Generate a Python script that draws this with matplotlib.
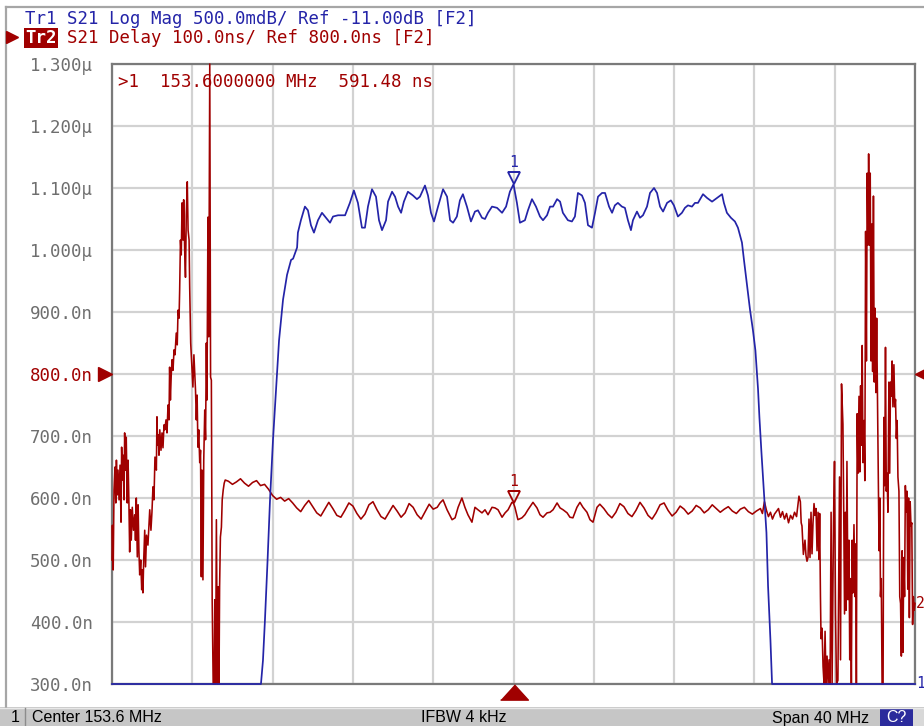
import numpy as np
import matplotlib
matplotlib.use("Agg")
import matplotlib.pyplot as plt
import matplotlib.transforms as mtransforms
from matplotlib.patches import Rectangle

# ---------------- instrument settings ----------------
center_mhz = 153.6
span_mhz = 40.0
ifbw_khz = 4
n_div = 10
delay_ref_ns = 800.0
delay_div_ns = 100.0
mag_ref_db = -11.0
mag_div_db = 0.5
marker_freq = 153.6
marker_delay = 591.48

ytick_labels = ["300.0n", "400.0n", "500.0n", "600.0n", "700.0n", "800.0n",
                "900.0n", "1.000\u00b5", "1.100\u00b5", "1.200\u00b5", "1.300\u00b5"]

# ---------------- Tr1 : S21 Log Mag (dB) ----------------
mag_freq = [133.60, 141.02, 141.12, 141.22, 141.35, 141.47, 141.62, 141.77, 141.92, 142.12,
            142.32, 142.52, 142.62, 142.82, 142.86, 143.01, 143.21, 143.36, 143.51, 143.66,
            143.86, 144.06, 144.21, 144.46, 144.61, 144.86, 145.21, 145.45, 145.65, 145.85,
            146.05, 146.20, 146.35, 146.55, 146.75, 146.90, 147.05, 147.25, 147.35, 147.55,
            147.70, 147.85, 148.00, 148.14, 148.34, 148.59, 148.79, 148.94, 149.19, 149.34,
            149.49, 149.64, 149.84, 150.09, 150.29, 150.44, 150.59, 150.78, 150.93, 151.08,
            151.28, 151.48, 151.68, 151.83, 152.03, 152.18, 152.33, 152.53, 152.78, 153.03,
            153.23, 153.42, 153.60, 153.77, 153.92, 154.17, 154.32, 154.52, 154.72, 154.92,
            155.07, 155.27, 155.42, 155.57, 155.77, 155.92, 156.06, 156.31, 156.51, 156.66,
            156.81, 157.01, 157.16, 157.31, 157.51, 157.66, 157.81, 158.01, 158.16, 158.36,
            158.51, 158.65, 158.80, 159.00, 159.15, 159.30, 159.45, 159.55, 159.75, 159.90,
            160.05, 160.25, 160.40, 160.60, 160.75, 160.90, 161.05, 161.25, 161.44, 161.59,
            161.79, 161.99, 162.14, 162.29, 162.49, 162.64, 162.79, 163.04, 163.24, 163.49,
            163.74, 163.99, 164.08, 164.23, 164.43, 164.63, 164.78, 164.98, 165.08, 165.23,
            165.38, 165.53, 165.65, 165.78, 165.85, 165.95, 166.08, 166.20, 166.28, 166.40,
            166.48, 166.55, 173.60]
mag_db = [-25.0, -25.0, -13.31, -12.98, -12.50, -12.02, -11.53, -11.13, -10.73, -10.40,
          -10.20, -10.08, -10.07, -9.98, -9.86, -9.76, -9.65, -9.68, -9.80, -9.86,
          -9.76, -9.70, -9.73, -9.78, -9.73, -9.72, -9.72, -9.62, -9.52, -9.62,
          -9.82, -9.82, -9.65, -9.51, -9.57, -9.76, -9.84, -9.76, -9.61, -9.53,
          -9.57, -9.65, -9.70, -9.61, -9.53, -9.56, -9.59, -9.57, -9.48, -9.56,
          -9.70, -9.77, -9.65, -9.51, -9.57, -9.76, -9.78, -9.73, -9.60, -9.55,
          -9.65, -9.77, -9.69, -9.68, -9.74, -9.75, -9.70, -9.65, -9.66, -9.70,
          -9.65, -9.53, -9.47, -9.62, -9.78, -9.76, -9.68, -9.59, -9.65, -9.73,
          -9.76, -9.72, -9.65, -9.65, -9.59, -9.61, -9.70, -9.76, -9.77, -9.73,
          -9.54, -9.56, -9.62, -9.80, -9.82, -9.70, -9.57, -9.54, -9.54, -9.65,
          -9.70, -9.64, -9.62, -9.65, -9.66, -9.76, -9.84, -9.76, -9.69, -9.74,
          -9.72, -9.65, -9.54, -9.50, -9.54, -9.65, -9.69, -9.62, -9.60, -9.64,
          -9.73, -9.70, -9.66, -9.64, -9.65, -9.62, -9.62, -9.55, -9.58, -9.61,
          -9.58, -9.55, -9.62, -9.70, -9.74, -9.77, -9.82, -9.94, -10.08, -10.28,
          -10.48, -10.65, -10.81, -11.12, -11.35, -11.63, -11.97, -12.28, -12.71, -13.15,
          -13.50, -25.0, -25.0]

# ---------------- Tr2 : S21 Group delay (ns) ----------------
delay_freq = [
    133.60, 133.62, 133.66, 133.70, 133.75, 133.79, 133.82, 133.86, 133.90, 133.95,
    134.00, 134.05, 134.08, 134.12, 134.16, 134.20, 134.23, 134.27, 134.31, 134.36,
    134.40, 134.44, 134.48, 134.52, 134.56, 134.61, 134.67, 134.73, 134.77, 134.81,
    134.86, 134.90, 134.94, 134.98, 135.03, 135.08, 135.11, 135.14, 135.18, 135.23,
    135.27, 135.32, 135.39, 135.44, 135.48, 135.54, 135.59, 135.64, 135.69, 135.74,
    135.81, 135.84, 135.87, 135.91, 135.94, 135.98, 136.04, 136.09, 136.14, 136.19,
    136.23, 136.29, 136.34, 136.39, 136.44, 136.47, 136.51, 136.55, 136.59, 136.64,
    136.69, 136.74, 136.80, 136.85, 136.89, 136.94, 136.97, 137.01, 137.05, 137.09,
    137.14, 137.17, 137.22, 137.26, 137.30, 137.35, 137.39, 137.44, 137.47, 137.52,
    137.56, 137.63, 137.68, 137.76, 137.80, 137.84, 137.88, 137.92, 137.97, 138.01,
    138.05, 138.08, 138.13, 138.17, 138.22, 138.26, 138.30, 138.33, 138.38, 138.42,
    138.47, 138.51, 138.55, 138.59, 138.64, 138.69, 138.72, 138.76, 138.80, 138.85,
    138.89, 138.93, 138.96, 139.00, 139.05, 139.09, 139.14, 139.19, 139.24,
    139.4, 139.6, 139.8, 140.0, 140.2, 140.4, 140.6, 140.8, 141.0, 141.2,
    141.4, 141.6, 141.8, 142.0, 142.2, 142.4, 142.6, 142.8, 143.0, 143.2,
    143.4, 143.6, 143.8, 144.0, 144.2, 144.4, 144.6, 144.8, 145.0, 145.2,
    145.4, 145.6, 145.8, 146.0, 146.2, 146.4, 146.6, 146.8, 147.0, 147.2,
    147.4, 147.6, 147.8, 148.0, 148.2, 148.4, 148.6, 148.8, 149.0, 149.2,
    149.4, 149.6, 149.8,
    149.94, 150.09, 150.29, 150.54, 150.69, 150.84, 151.03, 151.18, 151.33, 151.53,
    151.68, 151.83, 152.03, 152.18, 152.33, 152.53, 152.68, 152.83, 153.03, 153.18,
    153.33, 153.52, 153.60, 153.67, 153.82, 154.02, 154.17, 154.32, 154.57, 154.77,
    154.92, 155.07, 155.27, 155.42, 155.57, 155.77, 155.92, 156.07, 156.27, 156.41,
    156.56, 156.76, 156.91, 157.06, 157.26, 157.41, 157.56, 157.76,
    157.9, 158.1, 158.3, 158.5, 158.7, 158.9, 159.1, 159.3, 159.5, 159.7,
    159.9, 160.1, 160.3, 160.5, 160.7, 160.9, 161.1, 161.3, 161.5, 161.7,
    161.9, 162.1, 162.3, 162.5, 162.7, 162.9, 163.1, 163.3, 163.5, 163.7,
    163.9, 164.1, 164.3, 164.5, 164.7, 164.9, 165.1, 165.3, 165.5, 165.7,
    165.9,
    166.0, 166.1, 166.2, 166.3, 166.4, 166.5, 166.6, 166.8, 166.9, 167.0,
    167.1, 167.2, 167.3, 167.4, 167.5, 167.6, 167.7, 167.82,
    167.89, 167.93, 167.97, 168.04, 168.12, 168.17, 168.22, 168.27, 168.32, 168.37,
    168.42, 168.47, 168.52, 168.57, 168.62, 168.67, 168.72, 168.77, 168.82, 168.85,
    168.89, 168.92, 168.97, 169.02, 169.07, 169.12, 169.17, 169.22, 169.27, 169.32,
    169.37, 169.42, 169.47, 169.54, 169.59, 169.64, 169.69, 169.76, 169.84, 169.89,
    169.94, 170.01, 170.05, 170.09, 170.13, 170.17, 170.21, 170.26, 170.31, 170.35,
    170.39, 170.43, 170.47, 170.51, 170.56, 170.61, 170.65, 170.68, 170.72, 170.76,
    170.81, 170.85, 170.89, 170.93, 170.97, 171.01, 171.06, 171.10, 171.14, 171.18,
    171.22, 171.26, 171.29, 171.33, 171.37, 171.41, 171.45, 171.49, 171.53, 171.57,
    171.61, 171.65, 171.69, 171.73, 171.77, 171.81, 171.85, 171.88, 171.92, 171.96,
    172.01, 172.05, 172.09, 172.13, 172.17, 172.21, 172.25, 172.30, 172.34, 172.38,
    172.42, 172.46, 172.50, 172.55, 172.59, 172.63, 172.67, 172.71, 172.75, 172.80,
    172.84, 172.88, 172.92, 172.96, 173.00, 173.04, 173.08, 173.12, 173.16, 173.20,
    173.24, 173.28, 173.32, 173.36, 173.40, 173.44, 173.48, 173.52, 173.56, 173.60]
delay_ns = [
    500, 556, 484, 613, 650, 592, 661, 605, 645, 597,
    653, 561, 682, 629, 669, 597, 705, 645, 698, 592,
    661, 597, 513, 581, 532, 585, 548, 573, 532, 600,
    505, 589, 516, 476, 500, 452, 484, 447, 500, 548,
    489, 540, 524, 556, 581, 548, 577, 618, 597, 666,
    645, 731, 685, 702, 669, 710, 677, 705, 681, 718,
    710, 726, 705, 750, 726, 811, 758, 798, 823, 806,
    839, 831, 866, 847, 903, 890, 935, 1016, 992, 1076,
    1016, 1081, 1000, 956, 1056, 1110, 1032, 1016, 940, 850,
    823, 779, 831, 774, 726, 766, 682, 710, 657, 677,
    473, 645, 468, 661, 742, 694, 850, 758, 1053, 860,
    1500, 795, 790, 436, 150, 120, 436, 180, 565, 200,
    457, 150, 457, 537, 553, 597, 613, 624, 629,
    627, 622, 626, 631, 624, 619, 625, 628, 620, 622,
    614, 604, 598, 601, 595, 599, 592, 584, 578, 588,
    596, 586, 576, 571, 582, 593, 583, 572, 569, 580,
    592, 587, 575, 566, 574, 589, 594, 581, 570, 566,
    577, 588, 579, 569, 576, 591, 585, 573, 566, 578,
    590, 582, 585,
    592, 597, 581, 565, 568, 585, 600, 585, 573, 561,
    585, 581, 576, 581, 573, 585, 584, 581, 569, 576,
    581, 593, 591.48, 585, 565, 568, 573, 581, 593, 584,
    573, 569, 576, 577, 581, 592, 584, 581, 576, 569,
    568, 585, 593, 585, 577, 565, 561, 585,
    590, 583, 574, 568, 577, 591, 586, 575, 570, 580,
    593, 584, 572, 566, 576, 589, 592, 580, 571, 577,
    587, 582, 574, 579, 588, 584, 576, 581, 589, 583,
    577, 582, 586, 579, 575, 582, 585, 578, 574, 579,
    583,
    575, 594, 580, 570, 577, 566, 574, 583, 569, 578,
    566, 575, 560, 572, 566, 577, 570, 603,
    594, 560, 555, 509, 532, 507, 498, 504, 566, 504,
    577, 510, 560, 591, 572, 583, 515, 577, 501, 575,
    441, 373, 390, 328, 200, 385, 200, 345, 200, 339,
    200, 577, 200, 560, 659, 413, 200, 306, 634, 339,
    784, 719, 577, 413, 577, 419, 659, 436, 532, 339,
    470, 200, 532, 447, 557, 441, 526, 200, 736, 640,
    764, 642, 781, 685, 846, 657, 725, 628, 1030, 821,
    1124, 1008, 1155, 1008, 1124, 821, 1042, 804, 1087, 787,
    906, 770, 890, 759, 611, 515, 600, 441, 470, 200,
    200, 730, 620, 843, 611, 640, 577, 787, 640, 787,
    764, 821, 747, 815, 747, 759, 696, 725, 634, 611,
    441, 430, 345, 515, 351, 504, 441, 620, 577, 611,
    453, 600, 407, 594, 555, 560, 396, 441, 419, 430]

# ---------------- styling ----------------
W, H = 924, 726
BLUE = "#2424a8"
RED = "#a00000"
GRID = "#d2d2d2"
LABEL = "#6e6e6e"
MONO = ["DejaVu Sans Mono"]
SB = ["Liberation Sans", "DejaVu Sans"]
plt.rcParams["font.family"] = ["DejaVu Sans", "DejaVu Sans Mono"]

fig = plt.figure(figsize=(W / 100, H / 100), dpi=100)
fig.patch.set_facecolor("white")

L, R, T, B = 112, 915, 64, 684
ax = fig.add_axes([L / W, (H - B) / H, (R - L) / W, (B - T) / H])
f0, f1 = center_mhz - span_mhz / 2, center_mhz + span_mhz / 2
d0 = delay_ref_ns - n_div / 2 * delay_div_ns
d1 = delay_ref_ns + n_div / 2 * delay_div_ns
ax.set_xlim(f0, f1)
ax.set_ylim(d0, d1)
ax.set_xticks(np.linspace(f0, f1, n_div + 1))
ax.set_yticks(np.linspace(d0, d1, n_div + 1))
ax.grid(True, color=GRID, lw=1.6)
ax.set_axisbelow(True)
ax.tick_params(length=0, labelbottom=False, pad=13.5)
ax.set_yticklabels(ytick_labels, family=MONO, fontsize=12.5, color=LABEL)
for lbl in ax.get_yticklabels():
    if lbl.get_text() == "800.0n":
        lbl.set_color(RED)
for sp in ax.spines.values():
    sp.set_color("#7a7a7a")
    sp.set_linewidth(1.6)

ax2 = ax.twinx()
m0 = mag_ref_db - n_div / 2 * mag_div_db
m1 = mag_ref_db + n_div / 2 * mag_div_db
ax2.set_ylim(m0, m1)
ax2.set_axis_off()

dns = np.clip(np.array(delay_ns, float), d0, d1)
mdb = np.clip(np.array(mag_db, float), m0, m1)
ax.plot(delay_freq, dns, color=RED, lw=1.15, clip_on=False, zorder=3)
ax2.plot(mag_freq, mdb, color=BLUE, lw=1.25, clip_on=False, zorder=4)

# markers "1" on both traces
def draw_marker(a, x, y, col):
    for dy, mk, ms in [(6, "v", 8.5), (12.5, "_", 9)]:
        tr = mtransforms.offset_copy(a.transData, fig=fig, x=0, y=dy, units="dots")
        a.plot([x], [y], marker=mk, ms=ms, mfc="none", mec=col, mew=1.3,
               transform=tr, clip_on=False, zorder=6)
    tr = mtransforms.offset_copy(a.transData, fig=fig, x=0, y=14, units="dots")
    a.text(x, y, "1", transform=tr, ha="center", va="bottom", color=col,
           family=MONO, fontsize=10.5, zorder=6)

mag_at_marker = float(np.interp(marker_freq, mag_freq, mag_db))
draw_marker(ax2, marker_freq, mag_at_marker, BLUE)
draw_marker(ax, marker_freq, marker_delay, RED)

# reference-position arrows and stimulus marker
bl = mtransforms.blended_transform_factory(ax.transAxes, ax.transData)
ax.plot([-0.0085], [delay_ref_ns], marker=">", ms=10, color=RED, transform=bl,
        clip_on=False, zorder=7)
ax.plot([1.0085], [delay_ref_ns], marker="<", ms=10, color=RED, transform=bl,
        clip_on=False, zorder=7)
bx = mtransforms.blended_transform_factory(ax.transData, ax.transAxes)
ax.plot([center_mhz], [-0.0125], marker=[(-1, -0.55), (1, -0.55), (0, 0.55)],
        ms=20, color=RED, transform=bx, clip_on=False, zorder=7)

# trace end labels
ax.text(1.0015, dns[-1], "2", transform=bl, color=RED, family=MONO, fontsize=10.5,
        ha="left", va="center", clip_on=False)
bl2 = mtransforms.blended_transform_factory(ax2.transAxes, ax2.transData)
ax2.text(1.0015, mdb[-1], "1", transform=bl2, color=BLUE, family=MONO, fontsize=10.5,
         ha="left", va="center", clip_on=False)

# marker readout
fig.text(118 / W, 1 - 87 / H,
         f">1  {marker_freq:.7f} MHz  {marker_delay:.2f} ns",
         color=RED, family=MONO, fontsize=12.5, va="baseline")

# header lines
fig.text(25 / W, 1 - 24 / H,
         f"Tr1 S21 Log Mag {mag_div_db*1000:.1f}mdB/ Ref {mag_ref_db:.2f}dB [F2]",
         color=BLUE, family=MONO, fontsize=12.5, va="baseline")
fig.text(25 / W, 1 - 43 / H, "Tr2", color="white", family=MONO, fontsize=12.5,
         va="baseline", fontweight="bold",
         bbox=dict(facecolor=RED, edgecolor="none", pad=0.8))
fig.text(66.8 / W, 1 - 43 / H,
         f"S21 Delay {delay_div_ns:.1f}ns/ Ref {delay_ref_ns:.1f}ns [F2]",
         color=RED, family=MONO, fontsize=12.5, va="baseline")

# overlay in pixel coordinates for the instrument frame / status bar
ov = fig.add_axes([0, 0, 1, 1], zorder=-1)
ov.set_xlim(0, W)
ov.set_ylim(H, 0)
ov.set_axis_off()
ov.plot([6, 6], [7, 707], color="#a6a6a6", lw=1.6)
ov.plot([6, W], [7, 7], color="#a6a6a6", lw=1.6)
ov.plot([12], [37], marker=">", ms=9, color=RED)
ov.add_patch(Rectangle((0, 707), W, 19, facecolor="#c6c6c6", edgecolor="none"))
ov.plot([0, W], [707.5, 707.5], color="#e8e8e8", lw=1)
ov.plot([25, 25], [708, 726], color="#8c8c8c", lw=1)
ov.add_patch(Rectangle((880, 708), 33, 18, facecolor="#2b2b9c", edgecolor="none"))
ov.add_patch(Rectangle((913, 708), 11, 18, facecolor="#d8d8d8", edgecolor="none"))

fig.text(11 / W, 1 - 718 / H, "1", family=SB, fontsize=11.5, va="center", color="black")
fig.text(32 / W, 1 - 718 / H, f"Center {center_mhz:.1f} MHz", family=SB, fontsize=11.5,
         va="center", color="black")
fig.text(421 / W, 1 - 718 / H, f"IFBW {ifbw_khz} kHz", family=SB, fontsize=11.5,
         va="center", color="black")
fig.text(772 / W, 1 - 718 / H, f"Span {span_mhz:.0f} MHz", family=SB, fontsize=11.5,
         va="center", color="black")
fig.text(896 / W, 1 - 718 / H, "C?", family=SB, fontsize=11.5, va="center",
         ha="center", color="white")

fig.savefig("out.png", dpi=100)
